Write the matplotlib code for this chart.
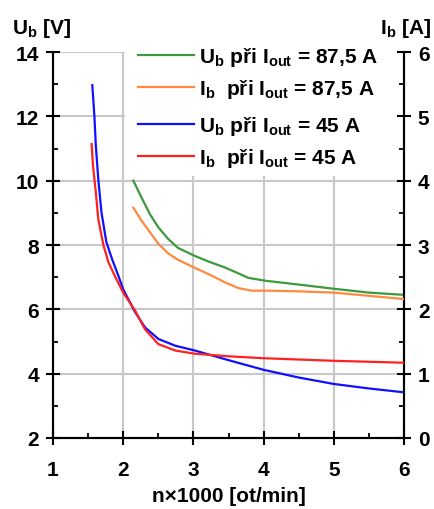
import matplotlib
matplotlib.use("Agg")
import matplotlib.pyplot as plt
from matplotlib.patches import Rectangle
from matplotlib.ticker import MultipleLocator

plt.rcParams["font.family"] = ["Liberation Sans", "DejaVu Sans"]
plt.rcParams["font.weight"] = "bold"
plt.rcParams["mathtext.fontset"] = "custom"
plt.rcParams["mathtext.rm"] = "Liberation Sans:bold"
plt.rcParams["mathtext.bf"] = "Liberation Sans:bold"

# ---------- data ----------
# U_b at I_out = 45 A (left axis, V)
x_ub45 = [1.56, 1.59, 1.61, 1.645, 1.69, 1.76, 1.84, 1.93, 2.0, 2.17, 2.31, 2.50, 2.74, 3.02,
          3.5, 4.0, 4.5, 5.0, 5.5, 6.0]
ub45 = [12.97, 12.0, 11.09, 10.05, 9.02, 8.09, 7.57, 7.05, 6.62, 5.91, 5.44, 5.08, 4.87, 4.72,
        4.42, 4.12, 3.88, 3.68, 3.54, 3.42]
# I_b at I_out = 45 A (right axis, A)
x_ib45 = [1.55, 1.57, 1.61, 1.645, 1.72, 1.79, 1.88, 2.0, 2.17, 2.31, 2.50, 2.74, 3.02,
          3.5, 4.0, 5.0, 6.0]
ib45 = [4.57, 4.23, 3.82, 3.40, 2.99, 2.73, 2.52, 2.26, 1.98, 1.69, 1.46, 1.36, 1.31,
        1.27, 1.24, 1.20, 1.17]
# U_b at I_out = 87,5 A (left axis, V)
x_ub87 = [2.144, 2.26, 2.38, 2.50, 2.64, 2.78, 3.01, 3.21, 3.45, 3.64, 3.78, 4.02,
          4.5, 5.0, 5.5, 6.0]
ub87 = [10.0, 9.48, 8.96, 8.55, 8.19, 7.91, 7.67, 7.49, 7.30, 7.12, 6.98, 6.89,
        6.77, 6.64, 6.52, 6.45]
# I_b at I_out = 87,5 A (right axis, A)
x_ib87 = [2.144, 2.26, 2.38, 2.50, 2.64, 2.78, 3.01, 3.21, 3.45, 3.64, 3.83, 4.07,
          4.5, 5.0, 5.5, 6.0]
ib87 = [3.58, 3.38, 3.20, 3.02, 2.87, 2.77, 2.65, 2.55, 2.42, 2.33, 2.29, 2.29,
        2.28, 2.26, 2.21, 2.16]

GREEN, ORANGE, BLUE, RED = "#3c9a3c", "#ff8a3d", "#1010ff", "#ff2020"
FS = 15

fig = plt.figure(figsize=(4.34, 5.10), dpi=100)
ax = fig.add_axes([53 / 434, 1 - 439 / 510, 351 / 434, 386 / 510])
ax2 = ax.twinx()

ax.set_xlim(1, 6)
ax.set_ylim(2, 14)
ax2.set_ylim(0, 6)

ax.grid(True, color="#c8c8c8", lw=1.5, zorder=0)
ax.set_axisbelow(True)
# white area behind the legend hides the grid
ax.add_patch(Rectangle((2.03, 10.15), 3.97, 3.85, facecolor="white", edgecolor="none", zorder=1))

l_ub87, = ax.plot(x_ub87, ub87, color=GREEN, lw=1.6, zorder=3)
l_ub45, = ax.plot(x_ub45, ub45, color=BLUE, lw=1.6, zorder=3)
l_ib87, = ax2.plot(x_ib87, ib87, color=ORANGE, lw=1.6, zorder=3)
l_ib45, = ax2.plot(x_ib45, ib45, color=RED, lw=1.6, zorder=3)

for a in (ax, ax2):
    a.spines["top"].set_visible(False)
    for s in ("left", "right", "bottom"):
        a.spines[s].set_linewidth(1.5)
    a.tick_params(which="major", direction="inout", length=10, width=1.5, labelsize=FS)
    a.tick_params(which="minor", direction="in", length=3.5, width=1.3)
ax.tick_params(axis="x", which="major", pad=11)
ax.tick_params(axis="y", which="major", pad=5)
ax2.tick_params(axis="y", which="major", pad=5)

ax.xaxis.set_major_locator(MultipleLocator(1))
ax.xaxis.set_minor_locator(MultipleLocator(0.5))
ax.yaxis.set_major_locator(MultipleLocator(2))
ax.yaxis.set_minor_locator(MultipleLocator(1))
ax2.yaxis.set_major_locator(MultipleLocator(1))
ax2.yaxis.set_minor_locator(MultipleLocator(0.5))

ax.set_xlabel("n×1000 [ot/min]", fontsize=FS, fontweight="bold", labelpad=5)
fig.text(12 / 434, 1 - 28 / 510, r"U$_\mathbf{b}$ [V]", fontsize=FS, fontweight="bold", va="center", ha="left")
fig.text(431 / 434, 1 - 28 / 510, r"I$_\mathbf{b}$ [A]", fontsize=FS, fontweight="bold", va="center", ha="right")

leg_kw = dict(frameon=False, fontsize=FS, handlelength=2.7, handletextpad=0.25,
              labelspacing=0.45, borderpad=0, borderaxespad=0, loc="upper left")
lab_u87 = r"U$_\mathbf{b}$ při I$_\mathbf{out}$ = 87,5 A"
lab_i87 = r"I$_\mathbf{b}$  při I$_\mathbf{out}$ = 87,5 A"
lab_u45 = r"U$_\mathbf{b}$ při I$_\mathbf{out}$ = 45 A"
lab_i45 = r"I$_\mathbf{b}$  při I$_\mathbf{out}$ = 45 A"
leg1 = ax2.legend([l_ub87, l_ib87], [lab_u87, lab_i87],
                  bbox_to_anchor=(138 / 434, 1 - 46 / 510), bbox_transform=fig.transFigure, **leg_kw)
ax2.add_artist(leg1)
leg2 = ax2.legend([l_ub45, l_ib45], [lab_u45, lab_i45],
                  bbox_to_anchor=(138 / 434, 1 - 115 / 510), bbox_transform=fig.transFigure, **leg_kw)

fig.savefig("out.png", dpi=100)
